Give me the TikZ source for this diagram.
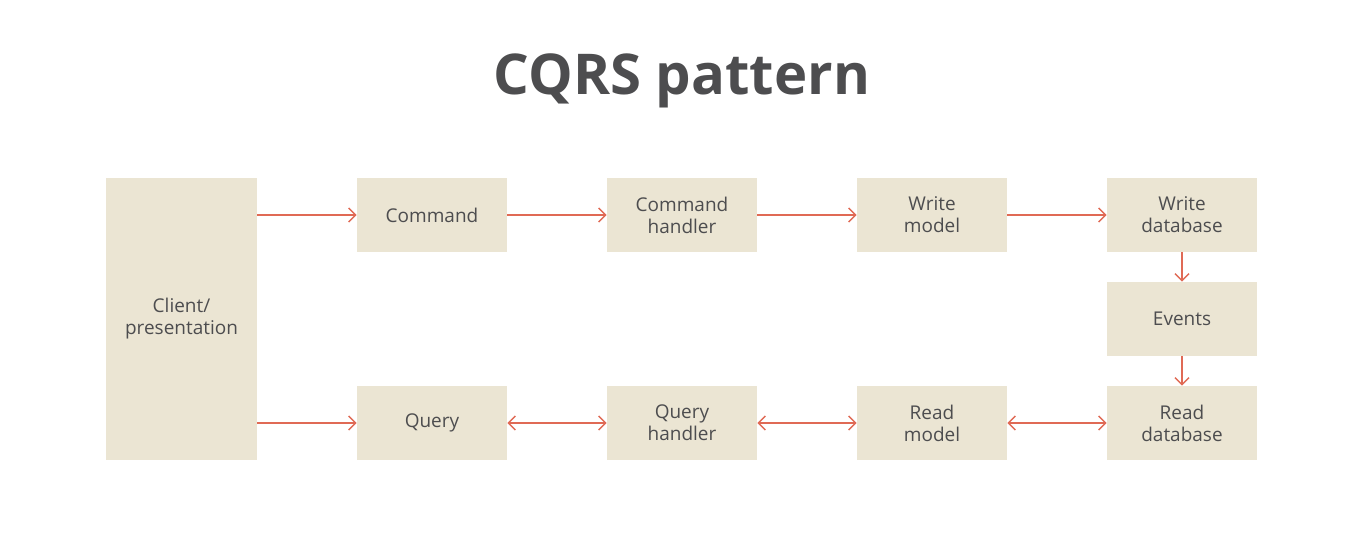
\documentclass[tikz,border=0pt]{standalone}
\usepackage{fontspec}
\setmainfont{Open Sans}
\usetikzlibrary{arrows.meta}

\definecolor{boxfill}{HTML}{EBE5D3}
\definecolor{linkred}{HTML}{E06A55}
\definecolor{inkgray}{HTML}{4D4D4F}

\tikzset{
 stage/.style={fill=boxfill, minimum width=3cm, minimum height=1.48cm,
  align=center, text=inkgray, font=\fontsize{10.8}{12.5}\selectfont, inner sep=0pt},
 link/.style={draw=linkred, line width=0.85pt, -{Straight Barb[length=4pt,width=8pt]}},
 twoway/.style={link, {Straight Barb[length=4pt,width=8pt]}-{Straight Barb[length=4pt,width=8pt]}}
}

\begin{document}
\begin{tikzpicture}

\useasboundingbox (0,0) rectangle (27.24,11.12);

\node (title) at (13.64,9.5) {\fontsize{32}{36}\selectfont\bfseries\color{inkgray}CQRS pattern};

% client column
\node[stage, minimum height=5.64cm, minimum width=3.02cm] (client) at (3.63,4.74) {Client/\\presentation};

% write side
\node[stage] (cmd) at (8.64,6.82) {Command};
\node[stage] (cmdh) at (13.64,6.82) {Command\\handler};
\node[stage] (wmodel) at (18.64,6.82) {Write\\model};
\node[stage] (wdb) at (23.64,6.82) {Write\\database};
\node[stage] (events) at (23.64,4.74) {Events};

% read side
\node[stage] (query) at (8.64,2.66) {Query};
\node[stage] (queryh) at (13.64,2.66) {Query\\handler};
\node[stage] (rmodel) at (18.64,2.66) {Read\\model};
\node[stage] (rdb) at (23.64,2.66) {Read\\database};

\draw[link] (client.east |- cmd.west) -- (cmd.west);
\draw[link] (cmd) -- (cmdh);
\draw[link] (cmdh) -- (wmodel);
\draw[link] (wmodel) -- (wdb);
\draw[link] (wdb) -- (events);
\draw[link] (events) -- (rdb);

\draw[link] (client.east |- query.west) -- (query.west);
\draw[twoway] (query) -- (queryh);
\draw[twoway] (queryh) -- (rmodel);
\draw[twoway] (rmodel) -- (rdb);

\end{tikzpicture}
\end{document}
